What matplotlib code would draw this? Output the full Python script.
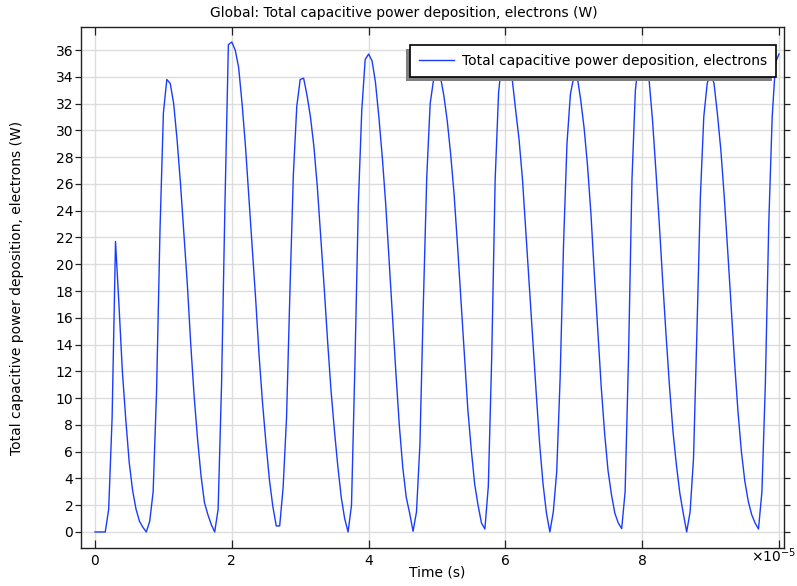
import numpy as np
import matplotlib
matplotlib.use("Agg")
import matplotlib.pyplot as plt
from matplotlib.patches import Rectangle
from matplotlib.transforms import IdentityTransform

# sampling step of the stored solution (s)
dt = 5e-7

# total capacitive power deposition, electrons (W), one value per stored time step
power = [
    0.0, 0.0, 0.0, 0.0, 1.7, 8.5, 21.7, 17.0, 12.0, 8.4,
    5.2, 3.1, 1.7, 0.8, 0.35, 0.0, 0.8, 3.0, 10.5, 22.5,
    31.3, 33.8, 33.5, 32.0, 29.3, 26.0, 22.3, 18.5, 14.0, 10.1,
    6.9, 4.2, 2.2, 1.3, 0.55, 0.0, 1.7, 11.0, 24.5, 36.4,
    36.6, 36.0, 34.7, 32.0, 28.8, 25.0, 21.3, 17.3, 13.1, 9.6,
    6.6, 3.9, 1.9, 0.45, 0.45, 3.3, 8.5, 18.0, 26.7, 31.8,
    33.8, 33.9, 32.6, 31.0, 28.8, 25.8, 22.1, 18.3, 14.3, 10.6,
    7.6, 4.9, 2.6, 1.0, 0.0, 2.0, 12.5, 24.5, 31.5, 35.3,
    35.7, 35.2, 33.6, 31.0, 28.0, 24.5, 20.3, 16.0, 11.8, 7.9,
    4.8, 2.6, 1.4, 0.05, 1.5, 6.5, 17.0, 26.5, 32.0, 33.8,
    34.4, 34.0, 32.6, 30.7, 28.2, 25.2, 21.4, 17.3, 13.2, 9.2,
    6.2, 3.6, 2.0, 0.67, 0.22, 3.4, 13.1, 26.3, 32.8, 35.3,
    36.0, 35.5, 33.8, 31.5, 29.3, 26.3, 22.3, 18.3, 14.3, 10.4,
    6.6, 3.6, 1.4, 0.0, 1.5, 4.5, 11.5, 21.5, 29.0, 32.7,
    34.0, 34.0, 32.3, 30.2, 27.4, 23.8, 19.3, 15.1, 10.9, 7.4,
    4.6, 2.8, 1.4, 0.67, 0.25, 3.0, 13.1, 26.3, 33.0, 35.3,
    36.0, 35.6, 33.8, 30.8, 27.0, 23.0, 18.7, 14.6, 10.8, 7.5,
    5.0, 2.9, 1.4, 0.0, 1.5, 5.5, 15.0, 25.0, 31.0, 33.5,
    34.3, 33.5, 31.2, 28.5, 25.0, 21.0, 16.8, 12.7, 9.0, 6.0,
    3.8, 2.3, 1.3, 0.67, 0.22, 3.0, 11.0, 23.0, 31.0, 35.1,
    35.7,
]
time = np.arange(len(power)) * dt

x_ticks = [0, 2e-5, 4e-5, 6e-5, 8e-5, 1e-4]
x_tick_labels = ["0", "2", "4", "6", "8", ""]
y_ticks = list(range(0, 37, 2))

title = "Global: Total capacitive power deposition, electrons (W)"
legend_label = "Total capacitive power deposition, electrons"
line_color = "#1a3cff"

plt.rcParams["font.family"] = ["DejaVu Sans"]
plt.rcParams["font.size"] = 10

fig = plt.figure(figsize=(7.97, 5.86), dpi=100)
ax = fig.add_axes([0.1016, 0.0648, 0.8821, 0.8891])

ax.plot(time, power, color=line_color, lw=1.0, label=legend_label, zorder=3)

ax.set_xlim(-0.205e-5, 10.073e-5)
ax.set_ylim(-1.2, 37.72)
ax.set_xticks(x_ticks)
ax.set_xticklabels(x_tick_labels)
ax.set_yticks(y_ticks)

ax.grid(True, color="#dddddd", lw=1.0)
ax.set_axisbelow(True)
for sp in ax.spines.values():
    sp.set_color("#222222")
    sp.set_linewidth(1.0)

ax.tick_params(axis="x", direction="in", length=6, width=0.9, top=True,
               bottom=True, pad=4, color="#222222")
ax.tick_params(axis="y", direction="out", length=4, width=0.9, left=True,
               right=True, pad=1.5, color="#222222")

ax.set_xlabel("Time (s)")
ax.xaxis.set_label_coords(0.506, -0.033)
ax.set_ylabel("Total capacitive power deposition, electrons (W)")
ax.yaxis.set_label_coords(-0.081, 0.5)

fig.text(403.5 / 797, 1 - 13 / 586, title, ha="center", va="center")
fig.text(796 / 797, 1 - 562 / 586, r"$\times10^{-5}$", ha="right", va="baseline")

leg = ax.legend(loc="upper right", bbox_to_anchor=(0.989, 0.9655),
                borderaxespad=0, fancybox=False, framealpha=1,
                edgecolor="black", handlelength=2.5, handletextpad=0.6,
                borderpad=0.65)
leg.get_frame().set_linewidth(1.2)

# grey drop shadow offset down-left behind the legend box
fig.canvas.draw()
bb = leg.get_window_extent(fig.canvas.get_renderer())
ax.add_patch(Rectangle((bb.x0 - 4, bb.y0 - 4), bb.width, bb.height,
                       transform=IdentityTransform(), facecolor="#7f7f7f",
                       edgecolor="none", zorder=4.9, clip_on=False))

fig.savefig("out.png", dpi=100)
